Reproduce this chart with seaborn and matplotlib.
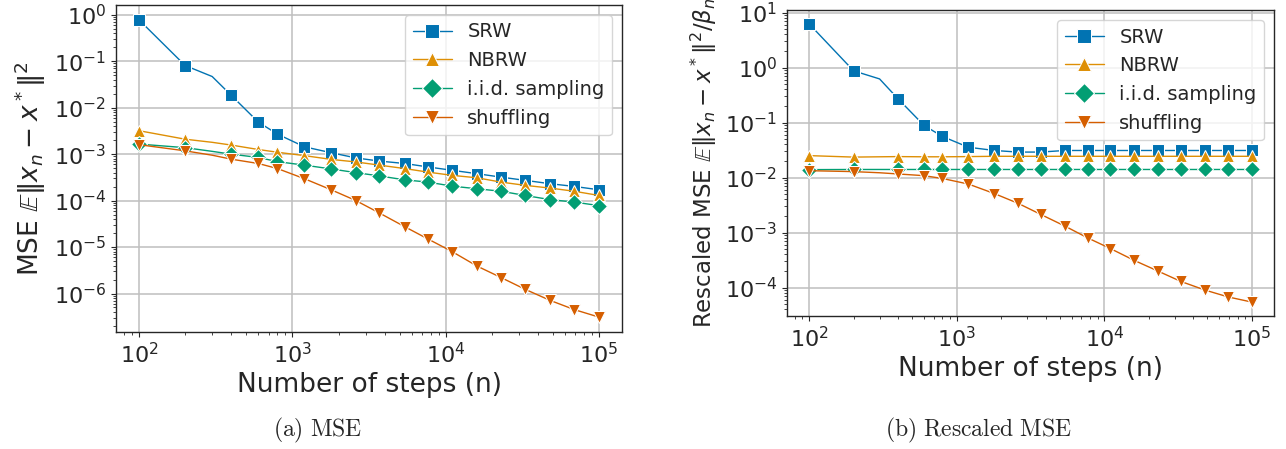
import numpy as np
import pandas as pd
import matplotlib
matplotlib.use("Agg")
import matplotlib.pyplot as plt
import seaborn as sns

# number of steps at which the curves were recorded
steps = [100, 200, 300, 400, 600, 800, 1200, 1800, 2600, 3700, 5400, 7700,
         11000, 16000, 23000, 33000, 48000, 69000, 100000]
mark_idx = [i for i in range(len(steps)) if i != 2]

methods = ["SRW", "NBRW", "i.i.d. sampling", "shuffling"]

# (a) MSE
mse_srw = [0.78, 0.081, 0.047, 0.0184, 0.0049, 0.0027, 0.00144, 0.00107, 0.00083,
           0.00071, 0.00063, 0.00053, 0.00045, 0.00038, 0.00032, 0.000273,
           0.000231, 0.000202, 0.000171]
mse_nbrw = [0.0032, 0.0021, 0.0018, 0.00157, 0.00126, 0.0011, 0.00093, 0.00077,
            0.00068, 0.00058, 0.00049, 0.00041, 0.00035, 0.00031, 0.00025,
            0.000213, 0.000186, 0.000159, 0.000129]
mse_iid = [0.00165, 0.00138, 0.00115, 0.001, 0.00085, 0.00069, 0.00058, 0.00048,
           0.0004, 0.00034, 0.00028, 0.00025, 0.000205, 0.00018, 0.000159,
           0.000129, 0.000105, 0.000093, 0.000078]
mse_shuf = [0.0016, 0.00118, 0.00095, 0.00078, 0.00063, 0.00049, 0.000296, 0.00017,
            0.0001, 5.4e-5, 2.75e-5, 1.48e-5, 8.0e-6, 3.9e-6, 2.2e-6, 1.23e-6,
            7.1e-7, 4.5e-7, 3.1e-7]

# (b) rescaled MSE
res_srw = [6.2, 0.87, 0.62, 0.27, 0.0885, 0.0557, 0.0355, 0.031, 0.029, 0.029,
           0.031, 0.031, 0.031, 0.031, 0.031, 0.031, 0.031, 0.031, 0.031]
res_nbrw = [0.025, 0.0235, 0.0238, 0.024, 0.0238, 0.0238, 0.024, 0.0243, 0.0243,
            0.0243, 0.0243, 0.0243, 0.0243, 0.0243, 0.0243, 0.0243, 0.0243,
            0.0243, 0.0243]
res_iid = [0.0139, 0.014, 0.014, 0.014, 0.014, 0.014, 0.014, 0.014, 0.014, 0.014,
           0.014, 0.014, 0.014, 0.014, 0.014, 0.014, 0.014, 0.014, 0.014]
res_shuf = [0.0133, 0.0128, 0.0122, 0.0116, 0.0108, 0.0096, 0.0076, 0.0051, 0.0034,
            0.00214, 0.00131, 0.0008, 0.00051, 0.00031, 0.0002, 0.000129, 9.0e-5,
            6.74e-5, 5.43e-5]


def to_long(series):
    rows = []
    for name, vals in zip(methods, series):
        for n, v in zip(steps, vals):
            rows.append({"n": n, "value": v, "method": name})
    return pd.DataFrame(rows)


df_mse = to_long([mse_srw, mse_nbrw, mse_iid, mse_shuf])
df_res = to_long([res_srw, res_nbrw, res_iid, res_shuf])

sns.set_style("ticks", {"axes.grid": True, "grid.color": ".75"})
plt.rcParams.update({
    "grid.linewidth": 1.1,
    "axes.linewidth": 1.0,
    "xtick.major.size": 3.5,
    "ytick.major.size": 3.5,
    "xtick.minor.size": 2,
    "ytick.minor.size": 2,
})

palette = dict(zip(methods, sns.color_palette("colorblind", 4)))
markers = {"SRW": "s", "NBRW": "^", "i.i.d. sampling": "D", "shuffling": "v"}

fig = plt.figure(figsize=(12.86, 4.49), dpi=100)
ax1 = fig.add_axes([0.0902, 0.2606, 0.3935, 0.7283])
ax2 = fig.add_axes([0.612, 0.2962, 0.3787, 0.6815])


def draw(ax, df, ylabel, ylab_size):
    sns.lineplot(data=df, x="n", y="value", hue="method", style="method",
                 palette=palette, markers=markers, dashes=False, estimator=None,
                 markevery=mark_idx, markersize=8.5, linewidth=1.0, ax=ax)
    ax.set_xscale("log")
    ax.set_yscale("log")
    ax.grid(True, which="major")
    ax.grid(False, which="minor")
    ax.set_xlabel("Number of steps (n)", fontsize=19)
    ax.set_ylabel(ylabel, fontsize=ylab_size)
    ax.tick_params(axis="both", which="major", labelsize=16)
    handles, labels = ax.get_legend_handles_labels()
    leg = ax.legend(handles, labels, loc="upper right", fontsize=14)
    for h in leg.legend_handles:
        h.set_markersize(10)


draw(ax1, df_mse, r"MSE $\mathbb{E}\Vert x_n - x^*\Vert^2$", 19)
draw(ax2, df_res, r"Rescaled MSE $\mathbb{E}\Vert x_n - x^*\Vert^2/\beta_n$", 16.5)

fig.text(0.247, 0.042, r"$\mathrm{(a)\ MSE}$", ha="center", va="center",
         fontsize=17, math_fontfamily="cm")
fig.text(0.761, 0.042, r"$\mathrm{(b)\ Rescaled\ MSE}$", ha="center", va="center",
         fontsize=17, math_fontfamily="cm")

fig.savefig("out.png", dpi=100)
